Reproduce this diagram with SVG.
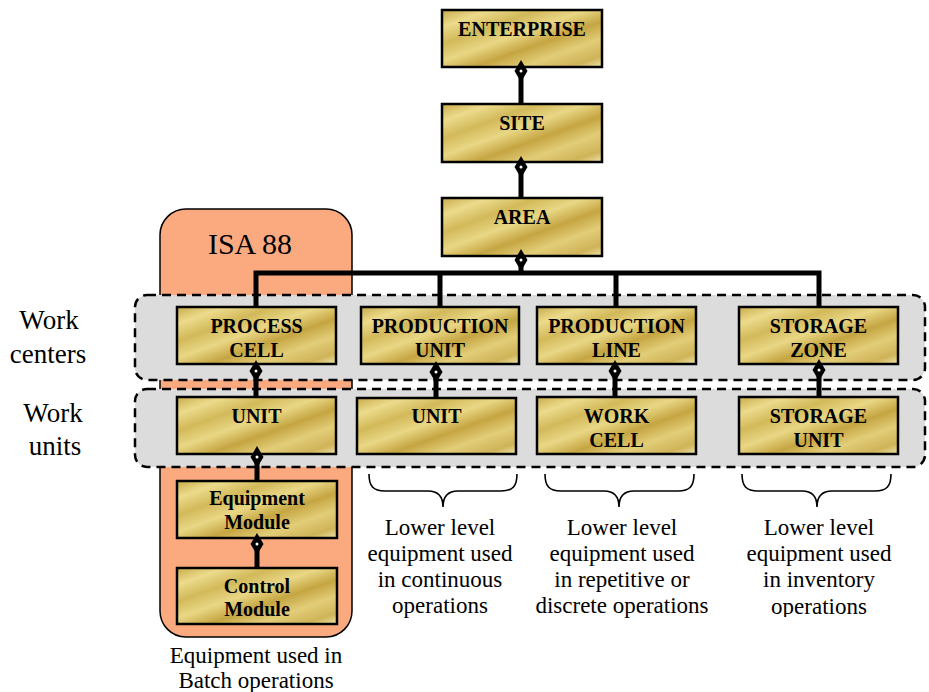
<svg xmlns="http://www.w3.org/2000/svg" xmlns:xlink="http://www.w3.org/1999/xlink" width="929" height="692" viewBox="0 0 929 692">
<style>
.box{fill:url(#gold);stroke:#000;stroke-width:2.5}
.bt{font-family:"Liberation Serif","Times New Roman",serif;font-weight:bold;font-size:20px;text-anchor:middle;fill:#000}
.lt{font-family:"Liberation Serif","Times New Roman",serif;font-size:23px;text-anchor:middle;fill:#000}
.side{font-family:"Liberation Serif","Times New Roman",serif;font-size:27px;text-anchor:middle;fill:#000}
.band{fill:#dcdcdc;stroke:#000;stroke-width:2.5;stroke-dasharray:9 6}
.con{fill:none;stroke:#000;stroke-width:5}
.brace{fill:none;stroke:#000;stroke-width:1.6}
</style>
<defs>
<linearGradient id="gold" x1="0" y1="0" x2="1" y2="1">
<stop offset="0" stop-color="#c9ab4b"/>
<stop offset="0.15" stop-color="#ecdb8c"/>
<stop offset="0.3" stop-color="#d2b95a"/>
<stop offset="0.45" stop-color="#e9d785"/>
<stop offset="0.6" stop-color="#c5a542"/>
<stop offset="0.75" stop-color="#e2cd78"/>
<stop offset="0.9" stop-color="#cfb358"/>
<stop offset="1" stop-color="#efe3a8"/>
</linearGradient>
<g id="dm">
<path d="M0,-11 L6.5,0 L0,11 L-6.5,0 Z" fill="#000"/>
<circle cx="0" cy="0" r="1.5" fill="#fff"/>
</g>
<clipPath id="clip3"><rect x="720" y="500" width="200" height="117"/></clipPath>
</defs>

<g id="isa88">
<rect x="160" y="209" width="192" height="428" rx="26" fill="#fbaa80" stroke="#000" stroke-width="1.5"/>
<text x="250" y="254" font-family="Liberation Serif, Times New Roman, serif" font-size="30" text-anchor="middle">ISA 88</text>
</g>

<g id="bands">
<rect class="band" x="135" y="295" width="790" height="85" rx="12"/>
<rect class="band" x="135" y="389" width="790" height="78" rx="12"/>
</g>

<g id="side-labels">
<text class="side" x="49" y="329">Work</text>
<text class="side" x="48" y="363">centers</text>
<text class="side" x="53" y="422">Work</text>
<text class="side" x="55" y="455">units</text>
</g>

<g id="connectors">
<path class="con" d="M256,307 V273 H819 V307 M440,273 V307 M616,273 V307"/>
<path class="con" d="M521,104 V71 M521,198 V167 M521,273 V260 M256,397 V371 M436,398 V372 M615,397 V371 M819,397 V370 M257,481 V457 M257,568 V544"/>
</g>

<g id="enterprise"><rect class="box" x="442" y="10" width="160" height="57"/><text class="bt" x="522" y="36">ENTERPRISE</text></g>
<g id="site"><rect class="box" x="442" y="104" width="160" height="58"/><text class="bt" x="522" y="130">SITE</text></g>
<g id="area"><rect class="box" x="442" y="198" width="160" height="58"/><text class="bt" x="522" y="224">AREA</text></g>

<g id="process-cell"><rect class="box" x="177" y="307" width="159" height="57"/><text class="bt" x="256.5" y="333">PROCESS</text><text class="bt" x="256.5" y="357">CELL</text></g>
<g id="production-unit"><rect class="box" x="361" y="307" width="158" height="57"/><text class="bt" x="440" y="333">PRODUCTION</text><text class="bt" x="440" y="357">UNIT</text></g>
<g id="production-line"><rect class="box" x="537" y="307" width="159" height="57"/><text class="bt" x="616.5" y="333">PRODUCTION</text><text class="bt" x="616.5" y="357">LINE</text></g>
<g id="storage-zone"><rect class="box" x="739" y="307" width="159" height="57"/><text class="bt" x="818.5" y="333">STORAGE</text><text class="bt" x="818.5" y="357">ZONE</text></g>

<g id="unit-1"><rect class="box" x="177" y="397" width="159" height="57"/><text class="bt" x="256.5" y="423">UNIT</text></g>
<g id="unit-2"><rect class="box" x="357" y="398" width="159" height="56"/><text class="bt" x="436.5" y="423">UNIT</text></g>
<g id="work-cell"><rect class="box" x="537" y="397" width="159" height="57"/><text class="bt" x="616.5" y="423">WORK</text><text class="bt" x="616.5" y="447">CELL</text></g>
<g id="storage-unit"><rect class="box" x="739" y="397" width="159" height="57"/><text class="bt" x="818.5" y="423">STORAGE</text><text class="bt" x="818.5" y="447">UNIT</text></g>

<g id="equipment-module"><rect class="box" x="177" y="481" width="160" height="57"/><text class="bt" x="257" y="505">Equipment</text><text class="bt" x="257" y="529">Module</text></g>
<g id="control-module"><rect class="box" x="177" y="568" width="160" height="56"/><text class="bt" x="257" y="593">Control</text><text class="bt" x="257" y="616">Module</text></g>

<g id="diamonds">
<use href="#dm" x="521" y="71"/>
<use href="#dm" x="521" y="167"/>
<use href="#dm" x="521" y="260"/>
<use href="#dm" x="256" y="371"/>
<use href="#dm" x="436" y="372"/>
<use href="#dm" x="615" y="371"/>
<use href="#dm" x="819" y="370"/>
<use href="#dm" x="257" y="457"/>
<use href="#dm" x="257" y="544"/>
</g>

<g id="braces">
<path class="brace" d="M369,474 C369,486 373,491 385,491 H428 C437,491 443,496 443,507 C443,496 449,491 458,491 H501 C513,491 517,486 517,474"/>
<path class="brace" d="M545,474 C545,486 549,491 561,491 H604 C613,491 619,496 619,507 C619,496 625,491 634,491 H678 C690,491 694,486 694,474"/>
<path class="brace" d="M742,474 C742,486 746,491 758,491 H802 C811,491 817,496 817,507 C817,496 823,491 832,491 H875 C887,491 891,486 891,474"/>
</g>

<g id="notes">
<text class="lt" x="440" y="535">Lower level</text>
<text class="lt" x="440" y="561">equipment used</text>
<text class="lt" x="440" y="587">in continuous</text>
<text class="lt" x="440" y="613">operations</text>
<text class="lt" x="622" y="535">Lower level</text>
<text class="lt" x="622" y="561">equipment used</text>
<text class="lt" x="622" y="587">in repetitive or</text>
<text class="lt" x="622" y="613">discrete operations</text>
<g clip-path="url(#clip3)">
<text class="lt" x="819" y="535">Lower level</text>
<text class="lt" x="819" y="561">equipment used</text>
<text class="lt" x="819" y="587">in inventory</text>
<text class="lt" x="819" y="614">operations</text>
</g>
<text class="lt" x="256" y="663">Equipment used in</text>
<text class="lt" x="256" y="688">Batch operations</text>
</g>
</svg>
